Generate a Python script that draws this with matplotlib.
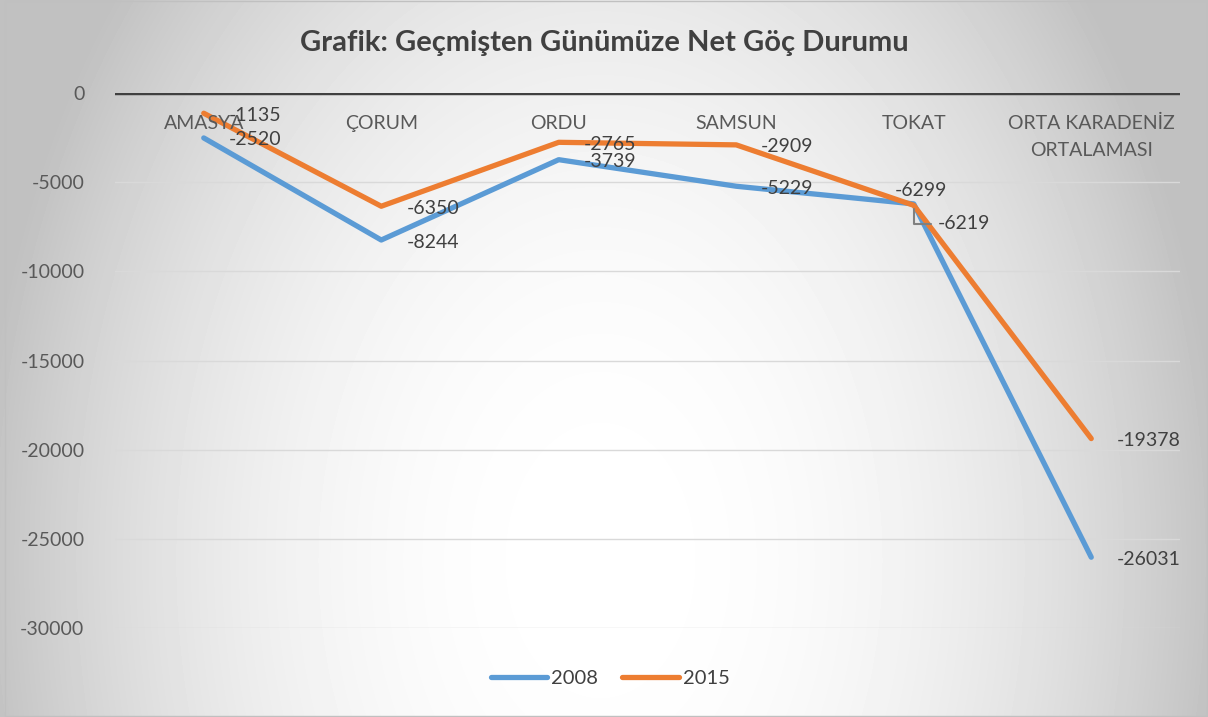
import numpy as np
import matplotlib
matplotlib.use("Agg")
import matplotlib.pyplot as plt

plt.rcParams['font.family'] = ['Lato', 'DejaVu Sans']

# data
categories = ["AMASYA", "ÇORUM", "ORDU", "SAMSUN", "TOKAT", "ORTA KARADENİZ\nORTALAMASI"]
values_2008 = [-2520, -8244, -3739, -5229, -6219, -26031]
values_2015 = [-1135, -6350, -2765, -2909, -6299, -19378]
series_names = ["2008", "2015"]
colors = ["#5B9BD5", "#ED7D31"]

W, H = 1208, 717
fig = plt.figure(figsize=(W / 100, H / 100), dpi=100)

# radial gradient background
yy, xx = np.mgrid[0:H, 0:W]
r = np.sqrt(((xx - 600) / 620.0) ** 2 + ((yy - 560) / 900.0) ** 2)
gray = np.clip(255 - 62 * r ** 2.2, 193, 255) / 255.0
bg = fig.add_axes([0, 0, 1, 1], zorder=-10)
bg.imshow(gray, cmap="gray", vmin=0, vmax=1, aspect="auto", interpolation="bilinear")
bg.axis("off")
fig.patches.append(plt.Rectangle((0.004, 0.002), 0.995, 0.996, transform=fig.transFigure,
                                 fill=False, edgecolor="#c0c0c0", linewidth=1))

ax = fig.add_axes([115 / W, 1 - 628 / H, 1065 / W, (628 - 93) / H])
ax.set_facecolor("none")
x = np.arange(len(categories))

for vals, name, c in zip([values_2008, values_2015], series_names, colors):
    ax.plot(x, vals, color=c, lw=3.8, label=name, solid_capstyle="round",
            solid_joinstyle="round", zorder=3)

ax.set_xlim(-0.5, len(categories) - 0.5)
ax.set_ylim(-30000, 0)
ax.set_yticks(np.arange(-30000, 1, 5000))
ax.set_yticklabels([str(v) for v in np.arange(-30000, 1, 5000)])
ax.tick_params(axis="y", length=0, pad=22, labelsize=14, labelcolor="#595959")
ax.set_xticks([])
ax.grid(axis="y", color="#d9d9d9", lw=1)
ax.axhline(0, color="#404040", lw=3.2, zorder=2)
for s in ax.spines.values():
    s.set_visible(False)

# category labels below the zero line
for xi, cat in zip(x, categories):
    ax.annotate(cat, (xi, 0), xytext=(0, -22), textcoords="offset pixels",
                ha="center", va="top", fontsize=14, color="#595959", linespacing=1.7)

# data labels
for i, v in enumerate(values_2008):
    if i == 4:
        ax.annotate(str(v), (x[i], v), xytext=(24, -20), textcoords="offset pixels",
                    ha="left", va="center", fontsize=14, color="#404040",
                    arrowprops=dict(arrowstyle="-", color="#808080", lw=1.5,
                                    connectionstyle="angle,angleA=0,angleB=90,rad=0",
                                    shrinkA=3, shrinkB=4))
    else:
        ax.annotate(str(v), (x[i], v), xytext=(25, -2), textcoords="offset pixels",
                    ha="left", va="center", fontsize=14, color="#404040")
for i, v in enumerate(values_2015):
    off = (-19, 15) if i == 4 else (25, -2)
    ax.annotate(str(v), (x[i], v), xytext=off, textcoords="offset pixels",
                ha="left", va="center", fontsize=14, color="#404040")

fig.text(0.5, 1 - 43 / H, "Grafik: Geçmişten Günümüze Net Göç Durumu", ha="center",
         va="center", fontsize=21, fontweight="bold", color="#404040")

ax.legend(loc="center", bbox_to_anchor=(0.465, -0.095), ncol=2, frameon=False,
          fontsize=14.5, handlelength=2.8, handletextpad=0.2, columnspacing=1.2,
          labelcolor="#404040")

fig.savefig("out.png", dpi=100)
